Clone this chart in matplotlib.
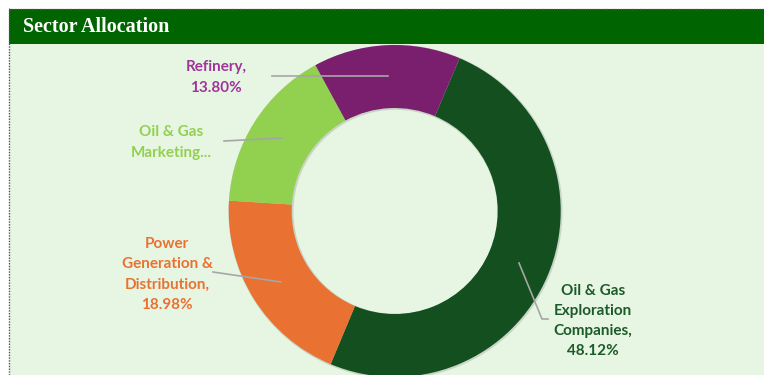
import matplotlib
matplotlib.use("Agg")
import matplotlib.pyplot as plt
from matplotlib.patches import Rectangle

# ---- data ----
sectors = ["Oil & Gas Exploration Companies", "Power Generation & Distribution",
           "Oil & Gas Marketing", "Refinery"]
values = [48.12, 18.98, 15.50, 13.80]   # marketing value estimated from arc size
label_texts = ["Oil & Gas\nExploration\nCompanies,\n48.12%",
               "Power\nGeneration &\nDistribution,\n18.98%",
               "Oil & Gas\nMarketing...",
               "Refinery,\n13.80%"]
slice_colors = ["#134f1f", "#e97132", "#92d050", "#7a1f6e"]
text_colors = ["#1d5a2a", "#e97132", "#92d050", "#a0359a"]
title = "Sector Allocation"

W, H = 764, 375
fig = plt.figure(figsize=(W / 100, H / 100), dpi=100)
fig.patch.set_facecolor("white")
ax = fig.add_axes([0, 0, 1, 1])
ax.set_axis_off()

def Y(py):
    return H - py

# background panel
ax.add_patch(Rectangle((9, 0), W - 9, Y(9), facecolor="#e7f6e3", edgecolor="none", zorder=0))
# header bar
ax.add_patch(Rectangle((9, Y(44)), W - 9, 35, facecolor="#006400", edgecolor="none", zorder=1))
ax.text(23, Y(27.5), title, color="white", fontsize=14.5, fontweight="bold",
        family="Liberation Serif", va="center", ha="left", zorder=2)
# dotted border
ax.plot([8.5, 8.5], [0, Y(8)], color="#555555", lw=1, ls=(0, (1, 1)), zorder=3)
ax.plot([8.5, W], [Y(8.5), Y(8.5)], color="#555555", lw=1, ls=(0, (1, 1)), zorder=3)

# soft outline halo behind the ring
ax.pie([1], colors=["#c9d6c6"], center=(394.7 + 0.8, Y(211) - 0.8), radius=167,
       wedgeprops=dict(width=65, linewidth=0), frame=False)

# donut
cx, cy, R, ring = 394.7, Y(211), 166, 63
wedges, _ = ax.pie(values, colors=slice_colors, startangle=67.0, counterclock=False,
                   center=(cx, cy), radius=R, wedgeprops=dict(width=ring, linewidth=0),
                   frame=False)

# leader lines (pixel coordinates)
leaders = [
    [(519, 263), (542, 319), (548, 319)],
    [(213, 272), (281, 282)],
    [(224, 141), (282, 138)],
    [(272, 76), (388, 76)],
]
for pts in leaders:
    ax.plot([p[0] for p in pts], [Y(p[1]) for p in pts], color="#a6a6a6", lw=1.2, zorder=5)

label_pos = [(593, 321), (167, 274.5), (171, 142.5), (216, 77.5)]
for txt, (lx, ly), c in zip(label_texts, label_pos, text_colors):
    ax.text(lx, Y(ly), txt, color=c, fontsize=11, fontweight="bold", family="Lato",
            ha="center", va="center", multialignment="center", linespacing=1.55, zorder=6)

ax.set_xlim(0, W)
ax.set_ylim(0, H)
ax.set_aspect("auto")
fig.savefig("out.png", dpi=100, facecolor=fig.get_facecolor())
